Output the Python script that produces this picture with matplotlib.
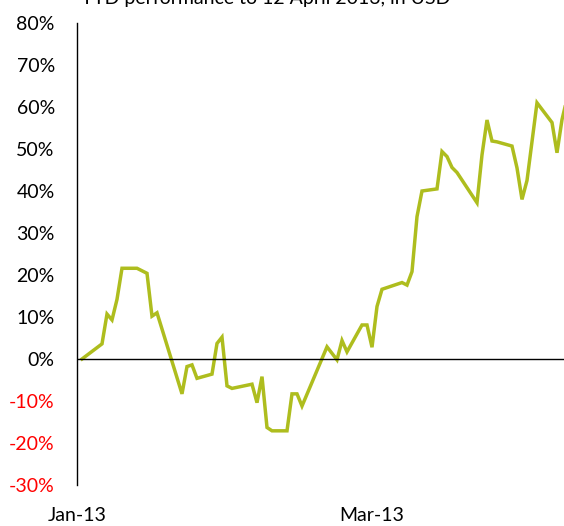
import numpy as np
import pandas as pd
import matplotlib.pyplot as plt
import matplotlib.dates as mdates

plt.rcParams['font.family'] = ['Lato', 'DejaVu Sans']

# day offsets from 1 Jan 2013 and YTD performance in %
day = [1, 5, 6, 7, 8, 9, 12, 14, 15, 16, 21, 22, 23, 24, 27, 28, 29, 30, 31, 35,
       36, 37, 38, 39, 42, 43, 44, 45, 50, 52, 53, 54, 57, 58, 59, 60, 61, 65, 66, 67,
       68, 69, 72, 73, 74, 75, 76, 80, 81, 82, 83, 84, 87, 88, 89, 90, 92, 95, 96, 97, 98]
perf = [0.0, 3.6, 10.7, 9.3, 14.2, 21.6, 21.6, 20.4, 10.2, 11.0, -8.3, -1.8, -1.4, -4.6,
        -3.6, 3.7, 5.2, -6.4, -7.0, -6.0, -10.4, -4.2, -16.3, -17.1, -17.1, -8.3, -8.3,
        -11.2, 2.9, -0.2, 4.4, 1.7, 8.1, 8.1, 2.8, 12.5, 16.6, 18.2, 17.6, 20.8, 33.9,
        40.0, 40.5, 49.4, 48.2, 45.6, 44.4, 37.2, 48.6, 56.9, 51.9, 51.7, 50.7, 45.5,
        38.0, 42.5, 61.0, 56.3, 49.1, 57.0, 62.0]
tick_dates = ['2013-01-01', '2013-03-01']
tick_labels = ['Jan-13', 'Mar-13']
title = 'YTD performance to 12 April 2013, in USD'

base = pd.Timestamp('2013-01-01')
dates = [base + pd.Timedelta(days=d) for d in day]

fig = plt.figure(figsize=(5.64, 5.26), dpi=100)
ax = fig.add_axes([77/564, 1 - 485/526, 1 - 77/564, (485 - 23)/526])

ax.plot(dates, np.array(perf) / 100, color='#AEBD1E', lw=2.5, solid_joinstyle='miter')
ax.axhline(0, color='black', lw=1)

ax.set_ylim(-0.3, 0.8)
ax.set_xlim(base, base + pd.Timedelta(days=97.4))

yt = np.arange(-0.3, 0.81, 0.1)
ax.set_yticks(yt)
ax.set_yticklabels([f'{round(v*100):d}%' for v in yt])
for lab, v in zip(ax.get_yticklabels(), yt):
    if v < -0.01:
        lab.set_color('red')

ax.set_xticks([pd.Timestamp(t) for t in tick_dates])
ax.set_xticklabels(tick_labels)

ax.tick_params(axis='y', length=0, pad=16, labelsize=14)
ax.tick_params(axis='x', length=0, pad=16, labelsize=14)

for s in ['top', 'right', 'bottom']:
    ax.spines[s].set_visible(False)
ax.spines['left'].set_linewidth(1)

fig.text(266/564, 1 - 4/526, title, ha='center', va='baseline', fontsize=14)

fig.savefig('out.png', dpi=100)
